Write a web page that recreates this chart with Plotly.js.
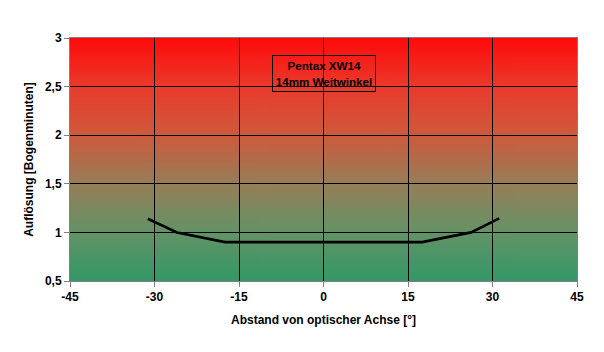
<!DOCTYPE html>
<html><head><meta charset="utf-8">
<script src="https://cdn.plot.ly/plotly-3.0.1.min.js"></script>
<style>html,body{margin:0;padding:0;background:#fff;}#chart{width:604px;height:352px;}</style>
</head><body><div id="chart"></div>
<script>
// Data
const angle = [-31.2, -26, -17.5, 17.5, 26.2, 31.2];          // Abstand von optischer Achse [°]
const resolution = [1.14, 1.0, 0.9, 0.9, 1.0, 1.145];          // Auflösung [Bogenminuten]
const xTicks = [-45, -30, -15, 0, 15, 30, 45];
const yTicks = [0.5, 1, 1.5, 2, 2.5, 3];
const labelLines = ["Pentax XW14", "14mm Weitwinkel"];

// gradient background image (red top -> sea green bottom)
const cv = document.createElement('canvas');
cv.width = 4; cv.height = 400;
const ctx = cv.getContext('2d');
const g = ctx.createLinearGradient(0, 0, 0, 400);
g.addColorStop(0.0, 'rgb(255,10,10)');
g.addColorStop(0.2, 'rgb(234,58,44)');
g.addColorStop(0.4, 'rgb(206,90,60)');
g.addColorStop(0.6, 'rgb(150,126,88)');
g.addColorStop(0.8, 'rgb(100,147,102)');
g.addColorStop(1.0, 'rgb(50,152,104)');
ctx.fillStyle = g; ctx.fillRect(0, 0, 4, 400);
const bg = cv.toDataURL('image/png');

const font = {family: 'Liberation Sans, Arial, sans-serif', size: 12, color: '#000', weight: 'bold'};

const traces = [{
  x: angle, y: resolution, type: 'scatter', mode: 'lines',
  line: {color: '#000', width: 2.6}, hoverinfo: 'skip', showlegend: false
}];

const layout = {
  width: 604, height: 352,
  margin: {l: 70, r: 27, t: 38, b: 71},
  paper_bgcolor: '#fff', plot_bgcolor: 'rgba(0,0,0,0)',
  separators: ',.',
  font: font,
  showlegend: false,
  images: [{source: bg, xref: 'paper', yref: 'paper', x: 0, y: 1, sizex: 1, sizey: 1,
            sizing: 'stretch', layer: 'below', xanchor: 'left', yanchor: 'top'}],
  xaxis: {
    range: [xTicks[0], xTicks[xTicks.length - 1]], tickvals: xTicks,
    ticktext: xTicks.map(String),
    showgrid: true, gridcolor: '#000', gridwidth: 1,
    zeroline: false, showline: true, linecolor: '#808080', linewidth: 1, mirror: true,
    ticks: 'outside', ticklen: 5, tickcolor: '#808080',
    tickfont: font,
    title: {text: 'Abstand von optischer Achse [°]', font: font, standoff: 12}
  },
  yaxis: {
    range: [yTicks[0], yTicks[yTicks.length - 1]], tickvals: yTicks,
    showgrid: true, gridcolor: '#000', gridwidth: 1,
    zeroline: false, showline: true, linecolor: '#808080', linewidth: 1, mirror: true,
    ticks: 'outside', ticklen: 5, tickcolor: '#808080',
    tickfont: font,
    title: {text: 'Auflösung [Bogenminuten]', font: font, standoff: 8}
  },
  annotations: [{
    x: 0, y: 2.635, xref: 'x', yref: 'y', showarrow: false,
    text: labelLines.join('<br>'),
    font: {family: 'Liberation Sans, Arial, sans-serif', size: 11.6, color: '#000', weight: 'bold'},
    bordercolor: '#000', borderwidth: 1, borderpad: 2, width: 98, height: 31,
    bgcolor: 'rgba(0,0,0,0)'
  }]
};

Plotly.newPlot('chart', traces, layout, {displayModeBar: false, staticPlot: true});
</script></body></html>
